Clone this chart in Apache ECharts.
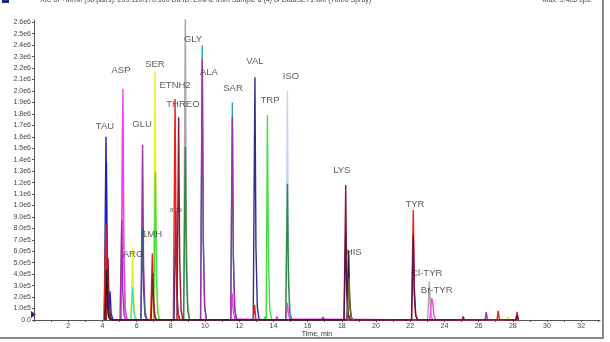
<!DOCTYPE html>
<html>
<head>
<meta charset="utf-8">
<script src="https://cdn.jsdelivr.net/npm/echarts@6/dist/echarts.min.js"></script>
<style>
  html, body {margin: 0; padding: 0; background: #fff;}
  #chart {width: 610px; height: 342px;}
</style>
</head>
<body>
<div id="chart"></div>
<script>
// intensities in units of 1e5 cps, time in minutes
const gray = [[8.75,0],[8.85,27.0],[8.91,8.1],[8.99,1.4],[9.1,0],
  [23.02,0],[23.12,3.35],[23.18,1.0],[23.26,0.2],[23.37,0]];
const lavender = [[14.72,0],[14.82,20.0],[14.88,6.0],[14.96,1.0],[15.07,0]];
const teal = [[9.74,0],[9.84,24.0],[9.9,7.2],[9.98,1.2],[10.09,0],
  [11.5,0],[11.6,19.0],[11.66,5.7],[11.74,1.0],[11.85,0]];
const pink = [[5.08,0],[5.18,18.2],[5.24,5.5],[5.32,0.9],[5.43,0]];
const yellow = [[5.67,0],[5.77,6.25],[5.83,1.9],[5.91,0.3],[6.02,0],
  [6.98,0],[7.08,21.7],[7.14,6.5],[7.22,1.1],[7.33,0],
  [27.63,0],[27.7,0.25],[27.77,0]];
const lightBlue = [[4.14,0],[4.24,13.8],[4.3,4.1],[4.38,0.7],[4.49,0]];
const blue = [[4.11,0],[4.21,16.0],[4.27,4.8],[4.35,0.8],[4.45,2.5],[4.51,0.6],[4.62,0]];
const magenta = [[5.1,0],[5.2,20.2],[5.26,6.1],[5.34,1.0],[5.45,0],
  [11.5,0],[11.6,2.3],[11.66,0.7],[11.74,0.1],[11.85,0],
  [14.13,0],[14.2,0.3],[14.27,0],
  [14.72,0],[14.82,1.5],[14.88,0.5],[14.96,0.1],[15.07,0],
  [23.15,0],[23.25,1.9],[23.31,1.6],[23.39,0.4],[23.5,0]];
const purple = [[5.03,0],[5.13,8.7],[5.19,2.6],[5.27,0.4],[5.38,0],
  [6.25,0],[6.35,15.3],[6.41,4.6],[6.49,0.8],[6.6,0],
  [9.74,0],[9.84,22.8],[9.9,6.8],[9.98,1.1],[10.09,0],
  [11.5,0],[11.6,17.7],[11.66,5.3],[11.74,0.9],[11.85,0],
  [16.83,0],[16.9,0.25],[16.97,0],
  [26.38,0],[26.45,0.7],[26.52,0]];
const green = [[7.0,0],[7.1,12.9],[7.16,3.9],[7.24,0.6],[7.35,0],
  [13.45,0],[13.52,0.3],[13.58,0],
  [13.55,0],[13.65,17.9],[13.71,5.4],[13.79,0.9],[13.9,0]];
const cyan = [[5.67,0],[5.77,2.9],[5.83,0.9],[5.91,0.1],[6.02,0]];
const darkGreen = [[8.75,0],[8.85,15.1],[8.91,4.5],[8.99,0.8],[9.1,0],
  [14.72,0],[14.82,11.9],[14.88,3.6],[14.96,0.6],[15.07,0]];
const navy = [[8.19,0],[8.29,9.45],[8.35,2.8],[8.43,0.5],[8.54,0],
  [12.82,0],[12.92,21.2],[12.98,6.4],[13.06,1.1],[13.17,0]];
const slate = [[6.25,0],[6.35,8.1],[6.41,2.4],[6.49,0.4],[6.6,0]];
const red = [[4.1,0],[4.2,8.4],[4.26,2.5],[4.34,0.4],[4.45,0],
  [6.82,0],[6.92,5.8],[6.98,1.7],[7.06,0.3],[7.17,0],
  [8.15,0],[8.25,19.3],[8.31,5.8],[8.39,1.0],[8.5,0],
  [12.82,0],[12.9,1.3],[12.98,0],
  [22.08,0],[22.18,9.6],[22.24,2.9],[22.32,0.5],[22.43,0],
  [27.08,0],[27.15,0.8],[27.22,0],
  [28.17,0],[28.25,0.7],[28.33,0]];
const darkRed = [[4.23,0],[4.33,5.4],[4.39,1.6],[4.47,0.3],[4.58,0],
  [6.85,0],[6.95,4.1],[7.01,1.2],[7.09,0.2],[7.2,0],
  [8.36,0],[8.46,17.7],[8.52,5.3],[8.6,0.9],[8.71,0],
  [18.13,0],[18.23,11.8],[18.29,3.5],[18.37,0.6],[18.48,0],
  [25.03,0],[25.1,0.3],[25.17,0]];
const darkPurple = [[18.13,0],[18.23,7.6],[18.29,2.3],[18.37,0.4],[18.48,0],
  [22.08,0],[22.18,7.4],[22.24,2.2],[22.32,0.4],[22.43,0],
  [28.18,0],[28.25,0.4],[28.32,0]];
const black = [[4.15,0],[4.25,4.4],[4.31,1.3],[4.39,0.2],[4.5,0],
  [18.3,0],[18.4,6.1],[18.46,1.8],[18.54,0.3],[18.65,0]];
const olive = [[18.32,0],[18.42,3.7],[18.48,1.1],[18.56,0.2],[18.67,0]];

// peak names: [time, intensity, text]
const peakLabels = [
  [4.15,16.9,'TAU'],[5.09,21.8,'ASP'],[6.32,17.1,'GLU'],[7.07,22.3,'SER'],
  [8.25,20.5,'ETNH2'],[8.71,18.8,'THREO'],[9.3,24.5,'GLY'],[10.23,21.6,'ALA'],
  [11.64,20.2,'SAR'],[12.92,22.6,'VAL'],[13.8,19.2,'TRP'],[15.03,21.3,'ISO'],
  [18.0,13.1,'LYS'],[18.7,5.9,'HIS'],[22.28,10.1,'TYR'],[22.97,4.1,'Cl-TYR'],
  [23.55,2.6,'Br-TYR'],[5.79,5.7,'ARG'],[6.9,7.5,'1MH']
];
const rtLabels = [[8.3,9.6,'8.29']];

const traces = [
  ['#a8a8a8', gray], ['#c4d4f4', lavender], ['#2aa6a6', teal], ['#e87ee0', pink],
  ['#eeee22', yellow], ['#4a68e0', lightBlue], ['#2020c0', blue], ['#f040f0', magenta],
  ['#9a32a8', purple], ['#40e040', green], ['#40e0c8', cyan], ['#2e8a40', darkGreen],
  ['#2e2e90', navy], ['#3c5c8c', slate], ['#e8201c', red], ['#8c1c30', darkRed],
  ['#5c1450', darkPurple], ['#222222', black], ['#707020', olive]
];

const chart = echarts.init(document.getElementById('chart'));
const fontFamily = '"Liberation Sans", Arial, sans-serif';

chart.setOption({
  animation: false,
  grid: {left: 34, right: 10, top: 20, bottom: 22, outerBoundsMode: 'none', containLabel: false},
  xAxis: {
    type: 'value', min: 0, max: 33.1, interval: 1,
    name: 'Time, min', nameLocation: 'middle', nameGap: 11, nameMoveOverlap: false,
    nameTextStyle: {fontSize: 7, color: '#333', fontFamily},
    splitLine: {show: false},
    axisLine: {lineStyle: {color: '#555', width: 1}},
    axisTick: {length: 2, lineStyle: {color: '#555'}},
    axisLabel: {
      fontSize: 7, color: '#444', margin: 3, fontFamily, showMaxLabel: false,
      formatter(v) {
        return (Math.abs(v - Math.round(v)) < 1e-6 && v > 0 && Math.round(v) % 2 === 0) ? String(v) : '';
      }
    }
  },
  yAxis: {
    type: 'value', min: 0, max: 26.2, interval: 1,
    splitLine: {show: false},
    axisLine: {show: true, lineStyle: {color: '#555', width: 1}},
    axisTick: {show: true, length: 2, lineStyle: {color: '#555'}},
    axisLabel: {
      fontSize: 7, color: '#444', margin: 3, fontFamily, showMaxLabel: false,
      formatter(v) {
        if (Math.abs(v - Math.round(v)) > 1e-6) return '';
        if (v === 0) return '0.0';
        if (v >= 10) return (v / 10).toFixed(1) + 'e6';
        return v.toFixed(1) + 'e5';
      }
    }
  },
  series: traces.map(([color, data]) => ({
    type: 'line',
    data,
    symbol: 'none',
    lineStyle: {color, width: 1.4},
    z: 2
  })).concat([
    {
      type: 'scatter', data: peakLabels, symbolSize: 0, z: 5,
      label: {show: true, formatter: p => p.value[2], fontSize: 9.5, color: '#333', fontFamily}
    },
    {
      type: 'scatter', data: rtLabels, symbolSize: 0, z: 5,
      label: {show: true, formatter: p => p.value[2], fontSize: 6, color: '#333', fontFamily}
    }
  ]),
  graphic: [
    {type: 'rect', shape: {x: 2, y: -2, width: 7, height: 5}, style: {fill: '#1a2a8a'}},
    {type: 'text', left: 40, top: -3, style: {text: 'XIC of +MRM (98 pairs): 299.110/170.100 Da ID: EtNH2 from Sample 6 (4) of DataSET1.wiff (Turbo Spray)', fontSize: 7, fill: '#444', fontFamily}},
    {type: 'text', right: 18, top: -3, style: {text: 'Max. 9.4e5 cps.', fontSize: 7, fill: '#444', fontFamily}},
    {type: 'polygon', shape: {points: [[31, 311], [31, 318], [36, 314.5]]}, style: {fill: '#1a2a9a'}},
    {type: 'line', shape: {x1: 603, y1: 0, x2: 603, y2: 338}, style: {stroke: '#888', lineWidth: 2}},
    {type: 'line', shape: {x1: 0, y1: 338, x2: 604, y2: 338}, style: {stroke: '#888', lineWidth: 2}}
  ]
});
</script>
</body>
</html>
